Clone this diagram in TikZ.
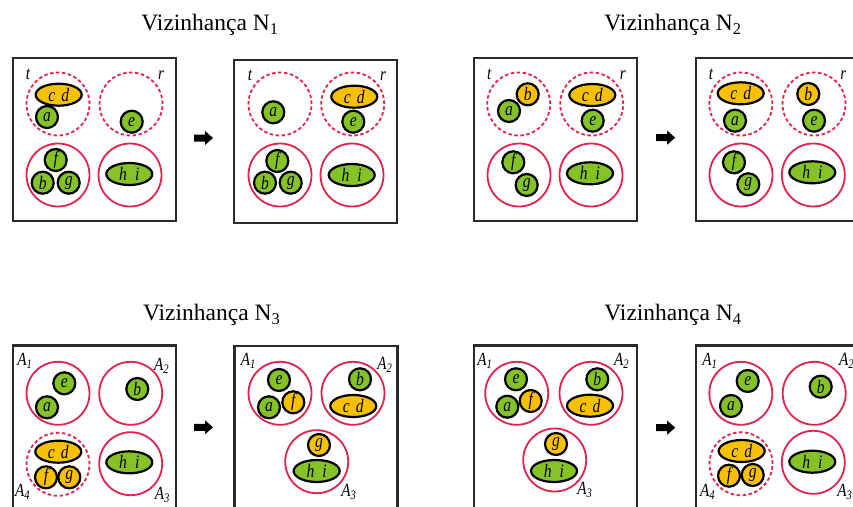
\documentclass[tikz,border=0pt]{standalone}
\usepackage{fontspec}
\setmainfont{Liberation Serif}
\newfontfamily\lblfont[FakeStretch=0.82]{Liberation Serif}
\usetikzlibrary{shapes.geometric}
\definecolor{grn}{HTML}{84C225}
\definecolor{org}{HTML}{F8C100}
\definecolor{rd}{HTML}{E0244E}
\definecolor{bx}{HTML}{2A2A2A}
\newcommand{\Asub}[1]{\textit{A}\textsubscript{\textit{#1}}}
\newcommand{\cdtxt}{c\hspace{6pt}d}
\newcommand{\hitxt}{h\hspace{8pt}i}
\begin{document}
\begin{tikzpicture}[x=1pt,y=-1pt,
 el/.style={draw=black,line width=2.2pt,inner sep=0pt,font=\lblfont\fontsize{19}{19}\selectfont\itshape},
 gc/.style={el,circle,fill=grn,minimum size=22pt},
 oc/.style={el,circle,fill=org,minimum size=22pt},
 ge/.style={el,ellipse,fill=grn,minimum width=46pt,minimum height=22pt},
 oe/.style={el,ellipse,fill=org,minimum width=46pt,minimum height=22pt},
 grp/.style={circle,draw=rd,line width=1.8pt,minimum size=63pt,inner sep=0pt},
 grpd/.style={grp,dash pattern=on 3.5pt off 2.5pt},
 frame/.style={rectangle,draw=bx,line width=2.2pt,minimum width=163pt,minimum height=163pt,anchor=north west,inner sep=0pt},
 lab/.style={font=\lblfont\fontsize{18.5}{18.5}\selectfont\itshape,inner sep=0pt},
 ttl/.style={font=\fontsize{23.5}{23.5}\selectfont,inner sep=0pt},
 arr/.style={fill=black}
]
\useasboundingbox (0,0) rectangle (853,506);
\clip (0,0) rectangle (853,506);
\newcommand{\blockarrow}[2]{%
  \fill[arr] (#1-9.5,#2-3.5) -- (#1+1.5,#2-3.5) -- (#1+1.5,#2-7) -- (#1+9.5,#2)
    -- (#1+1.5,#2+7) -- (#1+1.5,#2+3.5) -- (#1-9.5,#2+3.5) -- cycle;}

% ---------------- Panel 1 ----------------
\node[ttl] (T1) at (210,25) {Vizinhança N\textsubscript{1}};
\node[frame] (B1) at (12,57) {};
\node[lab] (t1) at (28,74) {t};
\node[lab] (r1) at (161,75) {r};
\node[grpd] (G1a) at (58,104) {};
\node[grpd] (G1b) at (131,104) {};
\node[grp] (G1c) at (58,175) {};
\node[grp] (G1d) at (130,175) {};
\node[oe] (cd1) at (58.7,94.7) {\cdtxt};
\node[gc] (a1) at (47,117) {a};
\node[gc] (e1) at (131.7,121.7) {e};
\node[gc] (f1) at (55.7,160) {f};
\node[gc] (b1) at (42.7,182.7) {b};
\node[gc] (g1) at (68.7,182.7) {g};
\node[ge] (hi1) at (129.3,174) {\hitxt};
\blockarrow{203.5}{138}
\node[frame] (B2) at (233,58.5) {};
\node[lab] (t2) at (250,75) {t};
\node[lab] (r2) at (383,76) {r};
\node[grpd] (G2a) at (280,104) {};
\node[grpd] (G2b) at (352.7,104) {};
\node[grp] (G2c) at (280,175) {};
\node[grp] (G2d) at (352,175) {};
\node[gc] (a2) at (273.3,112.3) {a};
\node[oe] (cd2) at (354.3,96.7) {\cdtxt};
\node[gc] (e2) at (353.3,121.7) {e};
\node[gc] (f2) at (277.3,161) {f};
\node[gc] (b2) at (265,182.7) {b};
\node[gc] (g2) at (290.7,182.7) {g};
\node[ge] (hi2) at (351.7,175) {\hitxt};

% ---------------- Panel 2 ----------------
\node[ttl] (T2) at (673,25) {Vizinhança N\textsubscript{2}};
\node[frame] (B3) at (472.7,56.7) {};
\node[lab] (t3) at (489.3,74) {t};
\node[lab] (r3) at (622.7,75) {r};
\node[grpd] (G3a) at (518.7,104) {};
\node[grpd] (G3b) at (591.7,104) {};
\node[grp] (G3c) at (519,175) {};
\node[grp] (G3d) at (591,175) {};
\node[oc] (b3) at (527.7,94.3) {b};
\node[gc] (a3) at (509,111) {a};
\node[oe] (cd3) at (592.3,95) {\cdtxt};
\node[gc] (e3) at (592.7,120.7) {e};
\node[gc] (f3) at (513.3,162.3) {f};
\node[gc] (g3) at (526.7,185) {g};
\node[ge] (hi3) at (590,173.3) {\hitxt};
\blockarrow{665.7}{137.7}
\node[frame] (B4) at (695,56.7) {};
\node[lab] (t4) at (711,74) {t};
\node[lab] (r4) at (843.3,75) {r};
\node[grpd] (G4a) at (740.8,104) {};
\node[grpd] (G4b) at (814,104) {};
\node[grp] (G4c) at (741,175) {};
\node[grp] (G4d) at (813.3,175) {};
\node[oe] (cd4) at (740.7,93.3) {\cdtxt};
\node[gc] (a4) at (735,120.7) {a};
\node[oc] (b4) at (808.3,94) {b};
\node[gc] (e4) at (814,120.7) {e};
\node[gc] (f4) at (734,162.3) {f};
\node[gc] (g4) at (748.3,184.3) {g};
\node[ge] (hi4) at (812.3,172.3) {\hitxt};

% ---------------- Panel 3 ----------------
\node[ttl] (T3) at (211.7,315) {Vizinhança N\textsubscript{3}};
\node[frame] (B5) at (11.7,344.3) {};
\node[lab] (A15) at (25,361) {\Asub{1}};
\node[lab] (A25) at (161.7,366) {\Asub{2}};
\node[lab] (A45) at (22.7,491.7) {\Asub{4}};
\node[lab] (A35) at (162.3,495) {\Asub{3}};
\node[grp] (G5a) at (58,393.3) {};
\node[grp] (G5b) at (130.7,393.3) {};
\node[grpd] (G5c) at (58,464.3) {};
\node[grp] (G5d) at (130.7,463.7) {};
\node[gc] (e5) at (64.3,383.3) {e};
\node[gc] (a5) at (47,407.3) {a};
\node[gc] (b5) at (137.3,389) {b};
\node[oe] (cd5) at (58.3,451.7) {\cdtxt};
\node[oc] (f5) at (46,477.3) {f};
\node[oc] (g5) at (69.3,477.3) {g};
\node[ge] (hi5) at (129.3,462.3) {\hitxt};
\blockarrow{203.5}{427.3}
\node[frame] (B6) at (233.3,345) {};
\node[lab] (A16) at (248.3,361) {\Asub{1}};
\node[lab] (A26) at (385,365) {\Asub{2}};
\node[lab] (A36) at (349,491.7) {\Asub{3}};
\node[grp] (G6a) at (280,393.3) {};
\node[grp] (G6b) at (353,393.3) {};
\node[grp] (G6c) at (316.7,461.7) {};
\node[gc] (e6) at (279,380) {e};
\node[gc] (a6) at (269,407.3) {a};
\node[oc] (f6) at (293.3,402.3) {f};
\node[gc] (b6) at (360,379.3) {b};
\node[oe] (cd6) at (353.3,406) {\cdtxt};
\node[oc] (g6) at (319,445) {g};
\node[ge] (hi6) at (316.7,471) {\hitxt};

% ---------------- Panel 4 ----------------
\node[ttl] (T4) at (673,315) {Vizinhança N\textsubscript{4}};
\node[frame] (B7) at (472.7,344.3) {};
\node[lab] (A17) at (485,361) {\Asub{1}};
\node[lab] (A27) at (621.7,361) {\Asub{2}};
\node[lab] (A37) at (585,490) {\Asub{3}};
\node[grp] (G7a) at (516.7,393.3) {};
\node[grp] (G7b) at (591,393.3) {};
\node[grp] (G7c) at (554.7,460) {};
\node[gc] (e7) at (516,379.3) {e};
\node[gc] (a7) at (507.3,406.7) {a};
\node[oc] (f7) at (530.7,401) {f};
\node[gc] (b7) at (597.3,379.3) {b};
\node[oe] (cd7) at (590,405.7) {\cdtxt};
\node[oc] (g7) at (556,444) {g};
\node[ge] (hi7) at (554,471) {\hitxt};
\blockarrow{665.7}{427.7}
\node[frame] (B8) at (695,344.3) {};
\node[lab] (A18) at (710,361) {\Asub{1}};
\node[lab] (A28) at (846.7,361) {\Asub{2}};
\node[lab] (A48) at (707.7,491.7) {\Asub{4}};
\node[lab] (A38) at (845,491.7) {\Asub{3}};
\node[grp] (G8a) at (740.8,393.3) {};
\node[grp] (G8b) at (814.2,393.3) {};
\node[grpd] (G8c) at (741,463.8) {};
\node[grp] (G8d) at (813.3,462.3) {};
\node[gc] (e8) at (747.7,381) {e};
\node[gc] (a8) at (731,406) {a};
\node[gc] (b8) at (820.7,386.7) {b};
\node[oe] (cd8) at (741.7,451) {\cdtxt};
\node[oc] (f8) at (729,475.7) {f};
\node[oc] (g8) at (752.7,475) {g};
\node[ge] (hi8) at (812.3,461.7) {\hitxt};
\end{tikzpicture}
\end{document}
